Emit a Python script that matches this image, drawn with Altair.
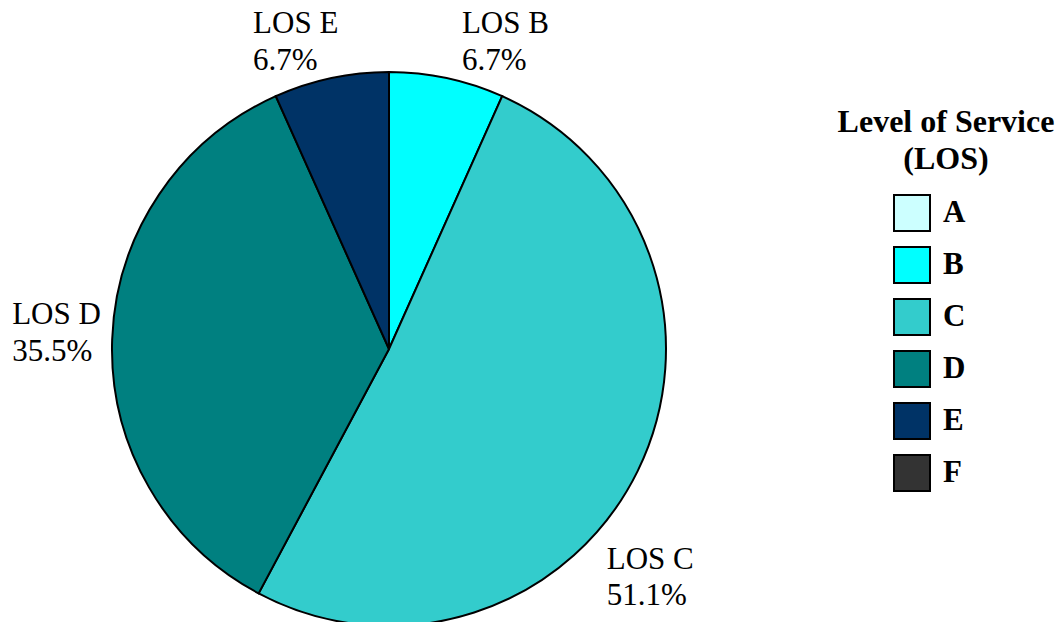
import altair as alt
import pandas as pd

# Level of Service categories and their share of the total (%)
levels = ["A", "B", "C", "D", "E", "F"]
shares = [0.0, 6.7, 51.1, 35.5, 6.7, 0.0]
colors = ["#CCFFFF", "#00FFFF", "#33CCCC", "#008080", "#003366", "#333333"]

df = pd.DataFrame({
    "los": levels,
    "share": shares,
    "rank": list(range(len(levels))),
})
df["label"] = [f"LOS {l}\n{s:.1f}%" for l, s in zip(levels, shares)]

SERIF = "Liberation Serif"
CX, CY, R = 389, 349, 277

base = alt.Chart(df).encode(
    theta=alt.Theta("share:Q", stack=True),
    order=alt.Order("rank:Q"),
)

pie = base.mark_arc(
    x=CX, y=CY, outerRadius=R, stroke="black", strokeWidth=2
).encode(
    color=alt.Color(
        "los:N",
        scale=alt.Scale(domain=levels, range=colors),
        legend=alt.Legend(
            title=["Level of Service", "(LOS)"],
            orient="none",
            legendX=838,
            legendY=107,
            padding=0,
            titleFont=SERIF,
            titleFontSize=32,
            titleFontWeight="bold",
            titleColor="black",
            titleAnchor="middle",
            titleAlign="center",
            titleLineHeight=37,
            titlePadding=18,
            titleLimit=400,
            labelFont=SERIF,
            labelFontSize=31,
            labelFontWeight="bold",
            labelColor="black",
            labelOffset=12,
            symbolType="square",
            symbolSize=1296,
            symbolStrokeColor="black",
            symbolStrokeWidth=2,
            symbolOpacity=1,
            symbolOffset=-34,
            rowPadding=8,
        ),
    )
)

# label placement offsets (dx, dy) relative to each slice's mid-angle on the rim
offsets = {"B": (15, -69), "C": (-31, 74), "D": (-100, -39), "E": (-78, -69)}

labels = []
for cat, (ox, oy) in offsets.items():
    labels.append(
        base.mark_text(
            x=CX, y=CY, radius=R, align="left", baseline="top",
            dx=ox, dy=oy, font=SERIF, fontSize=31, lineHeight=36.5,
            lineBreak="\n", color="black",
        ).encode(
            text=alt.condition(alt.datum.los == cat, "label:N", alt.value(""))
        )
    )

chart = alt.layer(pie, *labels).properties(
    width=1062,
    height=622,
    autosize=alt.AutoSizeParams(type="none"),
    padding=0,
    background="white",
).configure_view(stroke=None)

chart.save("out.html", embed_options={"renderer": "svg", "actions": False})
